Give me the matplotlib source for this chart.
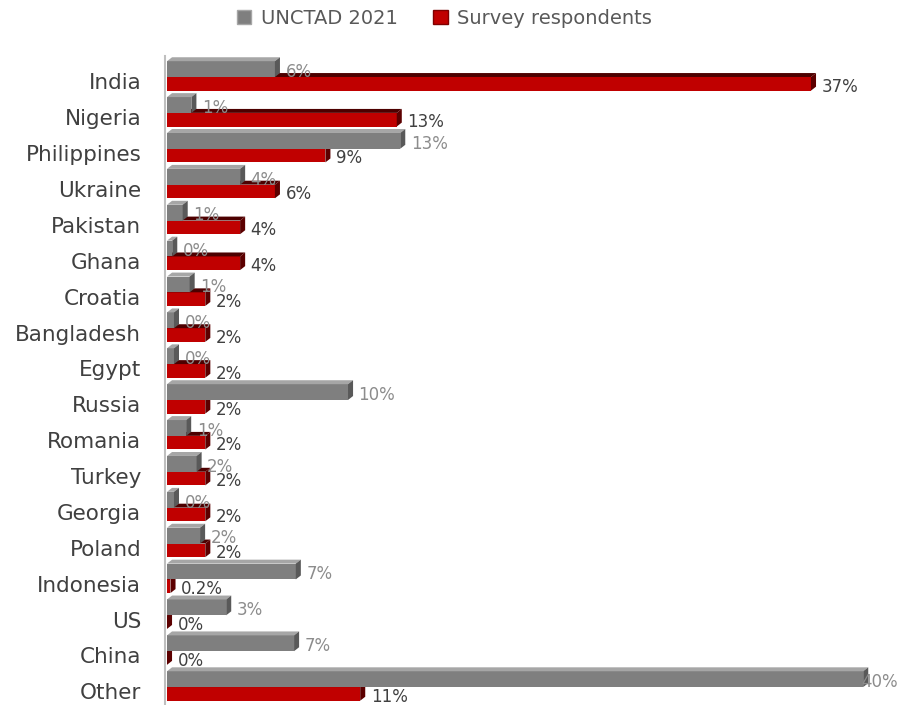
import matplotlib
matplotlib.use("Agg")
import matplotlib.pyplot as plt
from matplotlib.patches import Polygon, Patch

countries = ["India", "Nigeria", "Philippines", "Ukraine", "Pakistan", "Ghana",
             "Croatia", "Bangladesh", "Egypt", "Russia", "Romania", "Turkey",
             "Georgia", "Poland", "Indonesia", "US", "China", "Other"]
unctad_2021 = [6.2, 1.4, 13.4, 4.2, 0.9, 0.3, 1.3, 0.4, 0.4, 10.4, 1.1, 1.7,
               0.4, 1.9, 7.4, 3.4, 7.3, 40.0]
survey = [37.0, 13.2, 9.1, 6.2, 4.2, 4.2, 2.2, 2.2, 2.2, 2.2, 2.2, 2.2,
          2.2, 2.2, 0.2, 0.0, 0.0, 11.1]
series_names = ["UNCTAD 2021", "Survey respondents"]


def fmt_pct(v):
    # small non-zero shares keep one decimal
    if 0.15 <= v < 0.25:
        return f"{v:.1f}%"
    return f"{v:.0f}%"


W, H = 898, 705
fig = plt.figure(figsize=(W / 100, H / 100), dpi=100)
ax = fig.add_axes([167 / W, 0, 731 / W, 649 / H])
ax.set_xlim(0, 42)
ax.set_ylim(17.5, -0.585)

for s in ["top", "right", "bottom"]:
    ax.spines[s].set_visible(False)
ax.spines["left"].set_position(("data", -0.12))
ax.spines["left"].set_color("#bfbfbf")
ax.spines["left"].set_linewidth(1.5)

# depth of the pseudo-3D extrusion, in data units
dx, dy = 0.29, 0.11
h_gray, h_red = 0.44, 0.38

styles = {
    "gray": dict(front="#7f7f7f", top="#a6a6a6", side="#595959", text="#8c8c8c"),
    "red": dict(front="#c00000", top="#4d0000", side="#5c0000", text="#404040"),
}


def bar3d(v, y_top, y_bot, st, z):
    ax.barh((y_top + y_bot) / 2, v, height=y_bot - y_top, left=0,
            color=st["front"], edgecolor="none", zorder=z)
    top = [(0, y_top), (v, y_top), (v + dx, y_top - dy), (dx, y_top - dy)]
    side = [(v, y_top), (v + dx, y_top - dy), (v + dx, y_bot - dy), (v, y_bot)]
    ax.add_patch(Polygon(top, closed=True, facecolor=st["top"], edgecolor="none", zorder=z))
    ax.add_patch(Polygon(side, closed=True, facecolor=st["side"], edgecolor="none", zorder=z))


def value_label(v, y, color):
    if v + dx > 40:
        # no room to the right of the longest bar: pin to the right edge
        ax.annotate(fmt_pct(v), (1.0, y), xycoords=("axes fraction", "data"),
                    xytext=(0, -2), textcoords="offset points", va="center",
                    ha="right", fontsize=12, color=color, zorder=5)
    else:
        ax.annotate(fmt_pct(v), (v + dx, y), xytext=(4, -2),
                    textcoords="offset points", va="center", ha="left",
                    fontsize=12, color=color, zorder=5)


for i, (g, r) in enumerate(zip(unctad_2021, survey)):
    c = i
    # survey bar sits below, drawn first so the grey bar covers its top face
    bar3d(r, c, c + h_red, styles["red"], 2)
    bar3d(g, c - h_gray, c, styles["gray"], 3)
    value_label(r, c + h_red / 2, styles["red"]["text"])
    value_label(g, c - h_gray / 2, styles["gray"]["text"])

ax.set_xticks([])
ax.set_yticks([i + 0.12 for i in range(len(countries))])
ax.set_yticklabels(countries, fontsize=15.5, color="#404040")
ax.tick_params(axis="y", length=0, pad=17)

handles = [Patch(facecolor="#7f7f7f", edgecolor="#a6a6a6"),
           Patch(facecolor="#c00000", edgecolor="#7f0000")]
fig.legend(handles, series_names, loc="upper center", bbox_to_anchor=(0.495, 1.012),
           ncol=2, frameon=False, fontsize=14, handlelength=0.75, handleheight=0.75,
           handletextpad=0.5, columnspacing=1.8, labelcolor="#595959")

fig.savefig("out.png", dpi=100)
